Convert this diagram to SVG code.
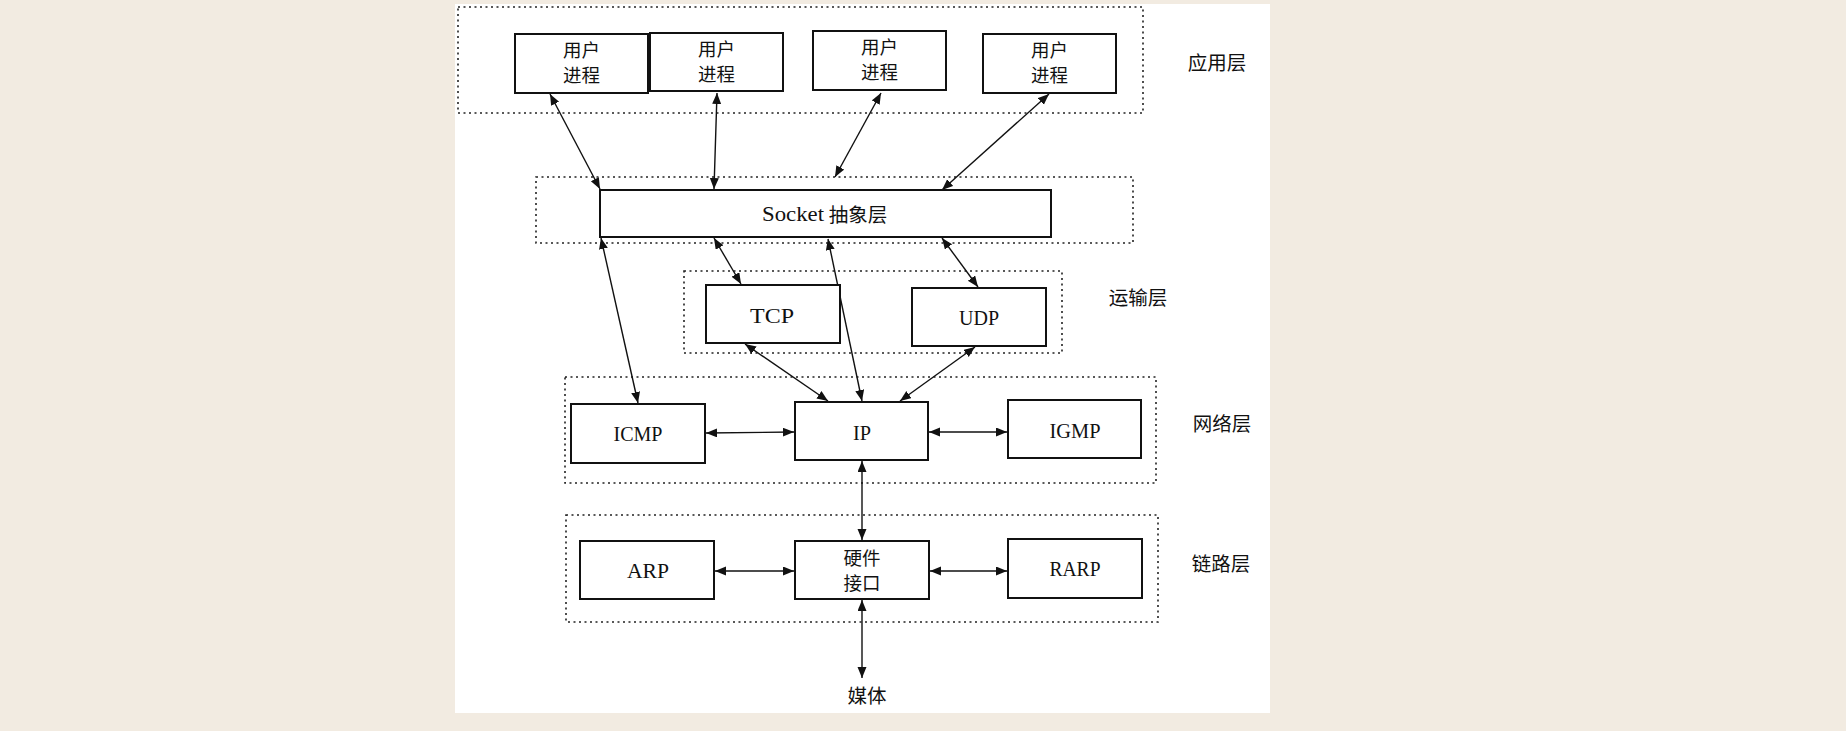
<svg xmlns="http://www.w3.org/2000/svg" width="1846" height="731" viewBox="0 0 1846 731">
<style>
.box{fill:#fff;stroke:#111;stroke-width:2}
.layer{fill:none;stroke:#222;stroke-width:1.6;stroke-dasharray:2 3.5}
.lat{font-family:"Liberation Serif",serif;font-size:22px;fill:#111;text-anchor:middle}
.cjk{font-family:"Noto Sans CJK SC",sans-serif;font-size:19.5px;fill:#111;text-anchor:middle;dominant-baseline:central}
.two{font-family:"Noto Sans CJK SC",sans-serif;font-size:18.5px;fill:#111;text-anchor:middle}
.c{fill:none;stroke:#111;stroke-width:1.4;marker-start:url(#ah);marker-end:url(#ah)}
</style>
<defs>
<marker id="ah" markerUnits="userSpaceOnUse" markerWidth="12" markerHeight="10" refX="11" refY="4.5" orient="auto-start-reverse">
<path d="M0,0 L11,4.5 L0,9 z" fill="#111"/>
</marker>
</defs>
<rect width="1846" height="731" fill="#F2EBE1"/>
<rect x="455" y="4" width="815" height="709" fill="#fff"/>
<g id="layers">
<rect class="layer" x="458" y="7" width="685" height="106"/>
<rect class="layer" x="536" y="177" width="597" height="66"/>
<rect class="layer" x="684" y="271" width="378" height="82"/>
<rect class="layer" x="565" y="377" width="591" height="106"/>
<rect class="layer" x="566" y="515" width="592" height="107"/>
</g>
<g id="layer-labels">
<text class="cjk" x="1217" y="61">应用层</text>
<text class="cjk" x="1138" y="296">运输层</text>
<text class="cjk" x="1222" y="422">网络层</text>
<text class="cjk" x="1221" y="562">链路层</text>
</g>
<g id="connectors">
<line class="c" x1="550" y1="94" x2="600" y2="189"/>
<line class="c" x1="717" y1="93" x2="714" y2="189"/>
<line class="c" x1="881" y1="93" x2="835" y2="177"/>
<line class="c" x1="1049" y1="94" x2="942" y2="190"/>
<line class="c" x1="601" y1="238" x2="638" y2="403"/>
<line class="c" x1="714" y1="238" x2="741" y2="284"/>
<line class="c" x1="828" y1="239" x2="862" y2="401"/>
<line class="c" x1="942" y1="238" x2="978" y2="287"/>
<line class="c" x1="745" y1="344" x2="828" y2="401"/>
<line class="c" x1="975" y1="347" x2="900" y2="401"/>
<line class="c" x1="706" y1="433" x2="794" y2="432"/>
<line class="c" x1="929" y1="432" x2="1007" y2="432"/>
<line class="c" x1="862" y1="461" x2="862" y2="540"/>
<line class="c" x1="715" y1="571" x2="794" y2="571"/>
<line class="c" x1="930" y1="571" x2="1007" y2="571"/>
<line class="c" x1="862" y1="600" x2="862" y2="678"/>
</g>
<g id="proc1"><rect class="box" x="515" y="34" width="133" height="59"/><text class="two" x="581.5" y="57">用户</text><text class="two" x="581.5" y="82">进程</text></g>
<g id="proc2"><rect class="box" x="650" y="33" width="133" height="58"/><text class="two" x="716.5" y="56">用户</text><text class="two" x="716.5" y="81">进程</text></g>
<g id="proc3"><rect class="box" x="813" y="31" width="133" height="59"/><text class="two" x="879.5" y="54">用户</text><text class="two" x="879.5" y="79">进程</text></g>
<g id="proc4"><rect class="box" x="983" y="34" width="133" height="59"/><text class="two" x="1049.5" y="57">用户</text><text class="two" x="1049.5" y="82">进程</text></g>
<g id="socket"><rect class="box" x="600" y="190" width="451" height="47"/><text class="lat" x="793" y="221" textLength="62" lengthAdjust="spacingAndGlyphs">Socket</text><text class="cjk" x="858" y="213">抽象层</text></g>
<g id="tcp"><rect class="box" x="706" y="285" width="134" height="58"/><text class="lat" x="772" y="323" textLength="44" lengthAdjust="spacingAndGlyphs">TCP</text></g>
<g id="udp"><rect class="box" x="912" y="288" width="134" height="58"/><text class="lat" x="979" y="325" textLength="40" lengthAdjust="spacingAndGlyphs">UDP</text></g>
<g id="icmp"><rect class="box" x="571" y="404" width="134" height="59"/><text class="lat" x="638" y="441" textLength="49" lengthAdjust="spacingAndGlyphs">ICMP</text></g>
<g id="ip"><rect class="box" x="795" y="402" width="133" height="58"/><text class="lat" x="862" y="440" textLength="18" lengthAdjust="spacingAndGlyphs">IP</text></g>
<g id="igmp"><rect class="box" x="1008" y="400" width="133" height="58"/><text class="lat" x="1075" y="438" textLength="51" lengthAdjust="spacingAndGlyphs">IGMP</text></g>
<g id="arp"><rect class="box" x="580" y="541" width="134" height="58"/><text class="lat" x="648" y="578" textLength="42" lengthAdjust="spacingAndGlyphs">ARP</text></g>
<g id="hw"><rect class="box" x="795" y="541" width="134" height="58"/><text class="two" x="862" y="565">硬件</text><text class="two" x="862" y="590">接口</text></g>
<g id="rarp"><rect class="box" x="1008" y="539" width="134" height="59"/><text class="lat" x="1075" y="576" textLength="51" lengthAdjust="spacingAndGlyphs">RARP</text></g>
<g id="media"><text class="cjk" x="867" y="694">媒体</text></g>
</svg>
